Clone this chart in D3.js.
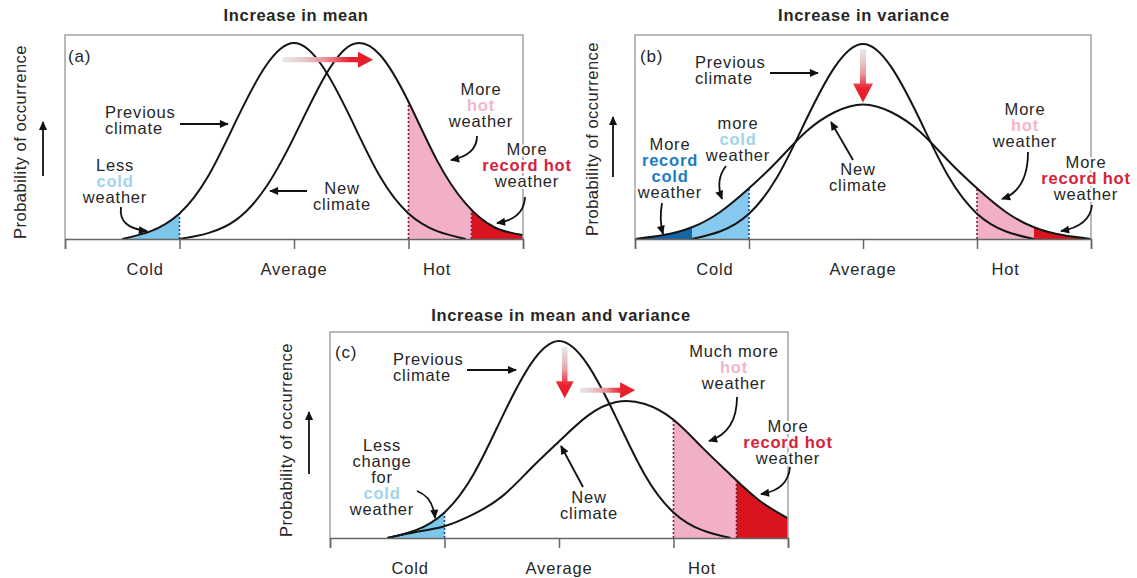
<!DOCTYPE html>
<html>
<head>
<meta charset="utf-8">
<script src="https://cdnjs.cloudflare.com/ajax/libs/d3/7.8.5/d3.min.js"></script>
<style>
  body { margin: 0; background: #fff; }
  text { font-family: "Liberation Sans", Arial, sans-serif; fill: #262626; }
</style>
</head>
<body>
<svg id="chart" width="1137" height="578"></svg>
<script>
// x grid in standard deviations of the previous climate
var gridX = [-4, -3.5, -3, -2.5, -2, -1.5, -1, -0.5, 0, 0.5, 1, 1.5, 2, 2.5, 3, 3.5, 4];

// curve heights (previous climate peak = 1), null = no curve
var prevA = [null, null, 0, 0.04, 0.13, 0.32, 0.61, 0.88, 1, 0.88, 0.61, 0.32, 0.13, 0.04, 0, null, null];
var newA  = [null, null, null, null, 0, 0.03, 0.10, 0.26, 0.52, 0.81, 0.99, 0.94, 0.70, 0.40, 0.18, 0.06, 0.02];
var prevB = [null, null, 0, 0.04, 0.13, 0.32, 0.61, 0.88, 1, 0.88, 0.61, 0.32, 0.13, 0.04, 0, null, null];
var newB  = [0, 0.02, 0.06, 0.14, 0.26, 0.40, 0.55, 0.65, 0.69, 0.65, 0.55, 0.40, 0.26, 0.14, 0.06, 0.02, 0];
var prevC = [null, null, 0, 0.04, 0.13, 0.32, 0.61, 0.88, 1, 0.88, 0.61, 0.32, 0.13, 0.04, 0, null, null];
var newC  = [null, null, 0, 0.03, 0.06, 0.12, 0.21, 0.35, 0.49, 0.62, 0.69, 0.68, 0.60, 0.46, 0.32, 0.19, 0.10];

var tickValues = [-4, -2, 0, 2, 4];
var tickLabels = ["Cold", "Average", "Hot"];
var tickLabelX = [-2.6, 0, 2.5];

var panelTitles = ["Increase in mean", "Increase in variance", "Increase in mean and variance"];
var panelLetters = ["(a)", "(b)", "(c)"];

var coldCut = -2, hotCut = 2, recordColdCut = -3;
var recordHotCut = [3.1, 3, 3.1];

var C = {
  blue: "#7cc6ea", darkBlue: "#1565a8", pink: "#f1b0c6", red: "#d9141e",
  coldText: "#9fd4ec", recColdText: "#1b7dc0", hotText: "#f3b6c9", recHotText: "#d8213a",
  arrow: "#e81f2a"
};

var svg = d3.select("#chart");
var defs = svg.append("defs");

defs.append("marker")
    .attr("id", "head")
    .attr("viewBox", "0 0 10 10")
    .attr("refX", 9).attr("refY", 5)
    .attr("markerWidth", 10).attr("markerHeight", 9)
    .attr("markerUnits", "userSpaceOnUse")
    .attr("orient", "auto")
  .append("path")
    .attr("d", "M0,0.5 L10,5 L0,9.5 z")
    .attr("fill", "#111");

// panel layout, pixels
var panels = [
  { id: "a", left: 65, right: 523, top: 35, base: 239, peak: 43,
    prev: prevA, next: newA,
    fills: [
      { curve: "prev", from: -4, to: coldCut, color: C.blue },
      { curve: "next", from: hotCut, to: recordHotCut[0], color: C.pink },
      { curve: "next", from: recordHotCut[0], to: 4, color: C.red }
    ],
    cuts: [
      { curve: "prev", at: coldCut, color: "#1d4f8f" },
      { curve: "next", at: hotCut, color: "#7a1f3d" },
      { curve: "next", at: recordHotCut[0], color: "#7a1f3d" }
    ],
    redArrows: [ { x1: -0.2, y1: 0.915, x2: 1.38, y2: 0.915, w: 2.6, hw: 8, hl: 15 } ],
    title: { x: 296, y: 21 },
    letter: { x: 68, y: 62 },
    ylab: { x: 20, y: 142, ax: 43, ay1: 176, ay2: 122 },
    notes: [
      { x: 105, y: 118, anchor: "start", lines: [["Previous"], ["climate"]] },
      { x: 115, y: 171, lines: [["Less"], ["cold", C.coldText, 1], ["weather"]] },
      { x: 342, y: 194, lines: [["New"], ["climate"]] },
      { x: 481, y: 95, lines: [["More"], ["hot", C.hotText, 1], ["weather"]] },
      { x: 527, y: 155, lines: [["More"], ["record hot", C.recHotText, 1], ["weather"]] }
    ],
    arrows: [
      [[180, 124], null, [228, 124]],
      [[121, 207], [118, 228], [147, 231]],
      [[307, 191], null, [270, 191]],
      [[477, 136], [477, 155], [451, 160]],
      [[525, 197], [524, 219], [497, 223]]
    ]
  },
  { id: "b", left: 635, right: 1091, top: 35, base: 239, peak: 44,
    prev: prevB, next: newB,
    fills: [
      { curve: "next", from: -4, to: recordColdCut, color: C.darkBlue },
      { curve: "next", from: recordColdCut, to: coldCut, color: "#86c9ee" },
      { curve: "next", from: hotCut, to: recordHotCut[1], color: C.pink },
      { curve: "next", from: recordHotCut[1], to: 4, color: C.red }
    ],
    cuts: [
      { curve: "next", at: coldCut, color: "#1d4f8f" },
      { curve: "next", at: hotCut, color: "#7a1f3d" }
    ],
    redArrows: [ { x1: 0, y1: 0.975, x2: 0, y2: 0.70, w: 3, hw: 10, hl: 19 } ],
    title: { x: 864, y: 21 },
    letter: { x: 640, y: 62 },
    ylab: { x: 592, y: 139, ax: 613, ay1: 177, ay2: 117 },
    notes: [
      { x: 695, y: 68, anchor: "start", lines: [["Previous"], ["climate"]] },
      { x: 670, y: 150, lines: [["More"], ["record", C.recColdText, 1], ["cold", C.recColdText, 1], ["weather"]] },
      { x: 738, y: 129, lines: [["more"], ["cold", C.coldText, 1], ["weather"]] },
      { x: 858, y: 175, lines: [["New"], ["climate"]] },
      { x: 1025, y: 115, lines: [["More"], ["hot", C.hotText, 1], ["weather"]] },
      { x: 1086, y: 168, lines: [["More"], ["record hot", C.recHotText, 1], ["weather"]] }
    ],
    arrows: [
      [[770, 73], null, [818, 73]],
      [[662, 203], [659, 220], [663, 234]],
      [[726, 166], [715, 180], [722, 199]],
      [[853, 160], null, [831, 122]],
      [[1028, 152], [1028, 190], [1002, 199]],
      [[1092, 205], [1090, 226], [1061, 231]]
    ]
  },
  { id: "c", left: 330, right: 788, top: 332, base: 538, peak: 341,
    prev: prevC, next: newC,
    fills: [
      { curve: "prev", from: -4, to: coldCut, color: C.blue },
      { curve: "next", from: hotCut, to: recordHotCut[2], color: C.pink },
      { curve: "next", from: recordHotCut[2], to: 4, color: C.red }
    ],
    cuts: [
      { curve: "prev", at: coldCut, color: "#1d4f8f" },
      { curve: "next", at: hotCut, color: "#7a1f3d" },
      { curve: "next", at: recordHotCut[2], color: "#7a1f3d" }
    ],
    redArrows: [
      { x1: 0.1, y1: 0.97, x2: 0.1, y2: 0.71, w: 2.8, hw: 9, hl: 17 },
      { x1: 0.37, y1: 0.75, x2: 1.33, y2: 0.75, w: 2.6, hw: 8, hl: 15 }
    ],
    title: { x: 561, y: 321 },
    letter: { x: 335, y: 358 },
    ylab: { x: 286, y: 440, ax: 309, ay1: 474, ay2: 412 },
    notes: [
      { x: 393, y: 365, anchor: "start", lines: [["Previous"], ["climate"]] },
      { x: 382, y: 451, lines: [["Less"], ["change"], ["for"], ["cold", C.coldText, 1], ["weather"]] },
      { x: 589, y: 503, lines: [["New"], ["climate"]] },
      { x: 734, y: 357, lines: [["Much more"], ["hot", C.hotText, 1], ["weather"]] },
      { x: 788, y: 432, lines: [["More"], ["record hot", C.recHotText, 1], ["weather"]] }
    ],
    arrows: [
      [[467, 370], null, [516, 370]],
      [[417, 491], [433, 497], [435, 518]],
      [[583, 487], null, [561, 446]],
      [[737, 397], [737, 432], [709, 441]],
      [[790, 467], [788, 490], [761, 494]]
    ]
  }
];

var LH = 16;

function arrowPolygon(x1, y1, x2, y2, w, hw, hl) {
  var dx = x2 - x1, dy = y2 - y1, len = Math.sqrt(dx * dx + dy * dy);
  var ux = dx / len, uy = dy / len, nx = -uy, ny = ux;
  var bx = x2 - ux * hl, by = y2 - uy * hl;
  var p = [
    [x1 + nx * w, y1 + ny * w], [bx + nx * w, by + ny * w], [bx + nx * hw, by + ny * hw],
    [x2, y2],
    [bx - nx * hw, by - ny * hw], [bx - nx * w, by - ny * w], [x1 - nx * w, y1 - ny * w]
  ];
  return "M" + p.join("L") + "Z";
}

panels.forEach(function(p, pi) {
  var x = d3.scaleLinear().domain([-4, 4]).range([p.left, p.right]);
  var y = d3.scaleLinear().domain([0, 1]).range([p.base, p.peak]);
  var g = svg.append("g");

  var series = {
    prev: gridX.map(function(v, i) { return [v, p.prev[i]]; }),
    next: gridX.map(function(v, i) { return [v, p.next[i]]; })
  };
  var line = d3.line()
      .defined(function(d) { return d[1] != null; })
      .x(function(d) { return x(d[0]); })
      .y(function(d) { return y(d[1]); })
      .curve(d3.curveNatural);
  var area = d3.area()
      .defined(function(d) { return d[1] != null; })
      .x(function(d) { return x(d[0]); })
      .y0(p.base)
      .y1(function(d) { return y(d[1]); })
      .curve(d3.curveNatural);

  // clip for the inside of the frame, and for the area under each curve
  defs.append("clipPath").attr("id", "frame-" + p.id)
    .append("rect").attr("x", p.left).attr("y", p.top)
    .attr("width", p.right - p.left).attr("height", p.base - p.top);
  ["prev", "next"].forEach(function(k) {
    defs.append("clipPath").attr("id", "under-" + p.id + "-" + k)
      .append("path").attr("d", area(series[k]));
  });

  // title
  g.append("text").attr("x", p.title.x).attr("y", p.title.y)
    .attr("text-anchor", "middle").attr("font-size", 16.5).attr("font-weight", "bold")
    .attr("letter-spacing", 0.7).attr("fill", "#1a1a1a")
    .text(panelTitles[pi]);

  var inner = g.append("g").attr("clip-path", "url(#frame-" + p.id + ")");

  // shaded tails
  p.fills.forEach(function(f) {
    inner.append("g").attr("clip-path", "url(#under-" + p.id + "-" + f.curve + ")")
      .append("rect")
        .attr("x", x(f.from)).attr("y", p.top)
        .attr("width", x(f.to) - x(f.from)).attr("height", p.base - p.top)
        .attr("fill", f.color);
  });

  // dotted thresholds
  p.cuts.forEach(function(c) {
    inner.append("g").attr("clip-path", "url(#under-" + p.id + "-" + c.curve + ")")
      .append("line")
        .attr("x1", x(c.at)).attr("x2", x(c.at))
        .attr("y1", p.base).attr("y2", p.top)
        .attr("stroke", c.color).attr("stroke-width", 1.6)
        .attr("stroke-dasharray", "2,2");
  });

  // curves
  ["prev", "next"].forEach(function(k) {
    inner.append("path")
      .attr("d", line(series[k]))
      .attr("fill", "none").attr("stroke", "#151515").attr("stroke-width", 2);
  });

  // frame
  g.append("path")
    .attr("d", "M" + p.left + "," + p.base + "V" + p.top + "H" + p.right + "V" + p.base)
    .attr("fill", "none").attr("stroke", "#a3a3a3").attr("stroke-width", 1.5);

  // x axis
  var axis = d3.axisBottom(x).tickValues(tickValues).tickSize(10).tickFormat("");
  var ax = g.append("g").attr("transform", "translate(0," + p.base + ")").call(axis);
  ax.select(".domain").attr("stroke", "#666").attr("stroke-width", 1.5);
  ax.selectAll(".tick line").attr("stroke", "#666").attr("stroke-width", 1.5);

  g.selectAll(".cat").data(tickLabels).enter().append("text")
    .attr("x", function(d, i) { return x(tickLabelX[i]); })
    .attr("y", p.base + 36)
    .attr("text-anchor", "middle").attr("font-size", 16.5).attr("letter-spacing", 0.8)
    .text(function(d) { return d; });

  // red shift arrows
  p.redArrows.forEach(function(a, ai) {
    var gid = "grad-" + p.id + ai;
    var gr = defs.append("linearGradient").attr("id", gid)
      .attr("gradientUnits", "userSpaceOnUse")
      .attr("x1", x(a.x1)).attr("y1", y(a.y1)).attr("x2", x(a.x2)).attr("y2", y(a.y2));
    gr.append("stop").attr("offset", "0%").attr("stop-color", "#d9d9d9").attr("stop-opacity", 0.6);
    gr.append("stop").attr("offset", "45%").attr("stop-color", "#ec9a9f");
    gr.append("stop").attr("offset", "75%").attr("stop-color", C.arrow);
    g.append("path")
      .attr("d", arrowPolygon(x(a.x1), y(a.y1), x(a.x2), y(a.y2), a.w, a.hw, a.hl))
      .attr("fill", "url(#" + gid + ")");
  });

  // panel letter
  g.append("text").attr("x", p.letter.x).attr("y", p.letter.y)
    .attr("font-size", 17).attr("letter-spacing", 0.8).text(panelLetters[pi]);

  // annotations
  p.notes.forEach(function(n) {
    n.lines.forEach(function(l, li) {
      g.append("text")
        .attr("x", n.x).attr("y", n.y + li * LH)
        .attr("text-anchor", n.anchor || "middle")
        .attr("font-size", 16.5).attr("letter-spacing", 0.8)
        .attr("font-weight", l[2] ? "bold" : null)
        .attr("stroke", "#fff").attr("stroke-width", 4).attr("stroke-linejoin", "round")
        .attr("paint-order", "stroke")
        .style("fill", l[1] || "#262626")
        .text(l[0]);
    });
  });
  p.arrows.forEach(function(a) {
    var d = "M" + a[0] + (a[1] ? "Q" + a[1] + " " + a[2] : "L" + a[2]);
    g.append("path").attr("d", d)
      .attr("fill", "none").attr("stroke", "#111").attr("stroke-width", 1.8)
      .attr("marker-end", "url(#head)");
  });

  // y label with arrow
  g.append("text")
    .attr("transform", "translate(" + p.ylab.x + "," + p.ylab.y + ") rotate(-90)")
    .attr("text-anchor", "middle").attr("dominant-baseline", "central")
    .attr("font-size", 16.5).attr("letter-spacing", 0.5)
    .text("Probability of occurrence");
  g.append("path")
    .attr("d", "M" + p.ylab.ax + "," + p.ylab.ay1 + "V" + p.ylab.ay2)
    .attr("stroke", "#111").attr("stroke-width", 1.8)
    .attr("marker-end", "url(#head)");
});
</script>
</body>
</html>
